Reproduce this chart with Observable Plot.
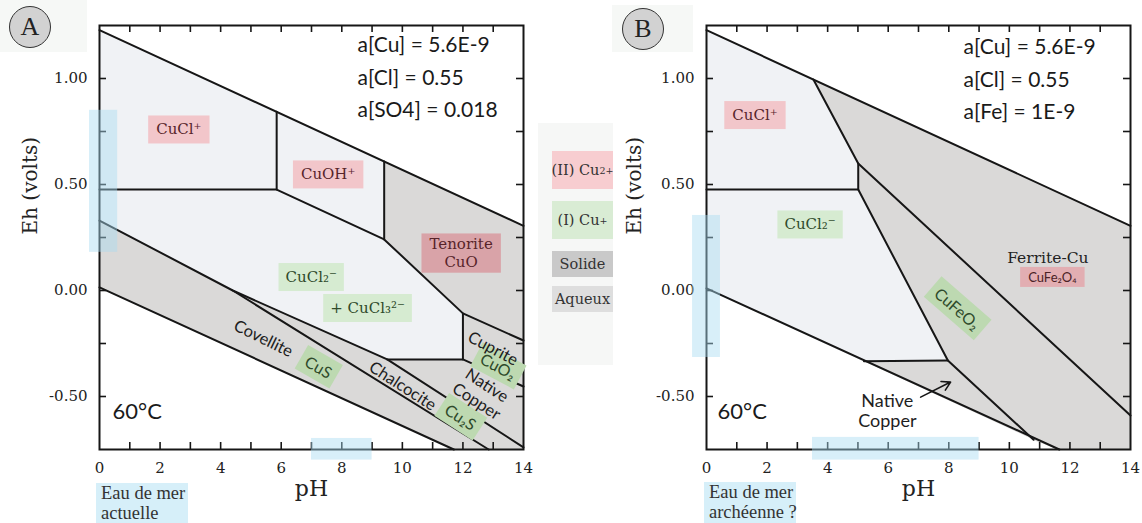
<!DOCTYPE html>
<html lang="fr">
<head>
<meta charset="utf-8">
<script src="https://cdn.jsdelivr.net/npm/d3@7"></script>
<script src="https://cdn.jsdelivr.net/npm/@observablehq/plot@0.6"></script>
<style>
  html, body { margin: 0; padding: 0; background: #fff; }
  #wrap { position: relative; width: 1142px; height: 523px; overflow: hidden; background: #fff; }
  .panel { position: absolute; top: 0; }
  .ghost { position: absolute; background: #f6f8f6; }
  .circ { position: absolute; width: 40px; height: 40px; border-radius: 50%; background: #d2d2d2;
          border: 1.5px solid #333; font: 26px "Liberation Serif", serif; color: #222;
          display: flex; align-items: center; justify-content: center; box-sizing: content-box; }
  .sea { position: absolute; background: #d6eff9; font: 18.5px "Liberation Serif", serif; color: #333;
         line-height: 20px; padding: 0 0 0 5px; box-sizing: border-box; white-space: nowrap; }
  #legend { position: absolute; left: 538px; top: 123px; width: 75px; height: 242px; background: #f6f7f6; }
  .li { position: absolute; left: 14px; width: 61px; display: flex; align-items: center; justify-content: center;
        font: 14.5px "DejaVu Serif", serif; color: #333; white-space: nowrap; }
  .li sup { font-size: 9.5px; vertical-align: 5px; }
</style>
</head>
<body>
<div id="wrap">
  <div class="ghost" style="left:0;top:0;width:87px;height:52px"></div>
  <div class="ghost" style="left:612px;top:5px;width:81px;height:47px"></div>
  <div id="pA" class="panel" style="left:0;width:540px"></div>
  <div id="pB" class="panel" style="left:600px;width:542px"></div>
  <div id="legend"></div>
  <div class="circ" style="left:9px;top:6px">A</div>
  <div class="circ" style="left:622px;top:8px">B</div>
  <div class="sea" style="left:96px;top:483px;width:92px;height:40px">Eau de mer<br>actuelle</div>
  <div class="sea" style="left:704px;top:482px;width:92px;height:41px">Eau de mer<br>archéenne ?</div>
</div>
<script>
// ---------- axis ticks ----------
const xMinor = d3.range(1, 14);
const xLabels = [0, 2, 4, 6, 8, 10, 12, 14];
const yMinor = [-0.5, -0.25, 0, 0.25, 0.5, 0.75, 1];
const yLabels = [-0.5, 0, 0.5, 1];

// ---------- panel A : stability fields (pH, Eh) ----------
const regionsA = [
  {name: "CuCl+",        phase: "aq",    pts: [[0,1.228],[5.85,0.843],[5.85,0.476],[0,0.476]]},
  {name: "CuOH+",        phase: "aq",    pts: [[5.85,0.843],[9.4,0.609],[9.4,0.241],[5.85,0.476]]},
  {name: "CuCl2-",       phase: "aq",    pts: [[0,0.476],[5.85,0.476],[9.4,0.241],[12,-0.108],[12,-0.325],[9.5,-0.325],[4.4,0.0],[0,0.33]]},
  {name: "Tenorite",     phase: "solid", pts: [[9.4,0.609],[14,0.305],[14,-0.236],[12,-0.108],[9.4,0.241]]},
  {name: "Cuprite",      phase: "solid", pts: [[12,-0.108],[14,-0.236],[14,-0.453],[12,-0.325]]},
  {name: "NativeCopper", phase: "solid", pts: [[9.5,-0.325],[12,-0.325],[14,-0.453],[14,-0.74]]},
  {name: "Chalcocite",   phase: "solid", pts: [[4.4,0.0],[9.5,-0.325],[14,-0.74],[14,-0.75],[12.85,-0.75]]},
  {name: "Covellite",    phase: "solid", pts: [[0,0.33],[4.4,0.0],[12.85,-0.75],[11.7,-0.75],[0,0.015]]}
];
const linesA = [
  [[0,1.228],[14,0.305]],
  [[0,0.015],[11.7,-0.75]],
  [[0,0.476],[5.85,0.476]],
  [[5.85,0.843],[5.85,0.476],[9.4,0.241],[12,-0.108],[14,-0.236]],
  [[9.4,0.609],[9.4,0.241]],
  [[12,-0.108],[12,-0.325]],
  [[9.5,-0.325],[12,-0.325],[14,-0.453]],
  [[0,0.33],[4.4,0.0],[9.5,-0.325],[14,-0.74]],
  [[4.4,0.0],[12.85,-0.75]]
];
const labelsA = [
  {text: "CuCl⁺",       x: 2.62,  y: 0.762,  kind: "pinkSerif"},
  {text: "CuOH⁺",       x: 7.55,  y: 0.55,   kind: "pinkSerif"},
  {text: "Tenorite\nCuO", x: 11.94, y: 0.179, kind: "tenorite"},
  {text: "CuCl₂⁻",      x: 6.99,  y: 0.066,  kind: "greenSerif"},
  {text: "+ CuCl₃²⁻",   x: 8.85,  y: -0.08,  kind: "greenSerif"},
  {text: "Covellite",   x: 5.42,  y: -0.224, kind: "mineral",   r: 26},
  {text: "CuS",         x: 7.23,  y: -0.362, kind: "greenSans", r: 30},
  {text: "Chalcocite",  x: 10.02, y: -0.448, kind: "mineral",   r: 33},
  {text: "Cu₂S",        x: 11.92, y: -0.598, kind: "greenSans", r: 33},
  {text: "Native\nCopper", x: 12.63, y: -0.483, kind: "mineral", r: 33},
  {text: "CuO₂",        x: 13.16, y: -0.358, kind: "greenSans", r: 28},
  {text: "Cuprite",     x: 13.0,  y: -0.271, kind: "mineral",   r: 28}
];
const paramsA = ["a[Cu] = 5.6E-9", "a[Cl] = 0.55", "a[SO4] = 0.018"];
const seaA = [
  {x1: -0.33, x2: 0.6, y1: 0.18, y2: 0.85},   // Eh range
  {x1: 7.0, x2: 9.0, y1: -0.80, y2: -0.698}   // pH range
];

// ---------- panel B ----------
const regionsB = [
  {name: "CuCl+",        phase: "aq",    pts: [[0,1.228],[3.53,0.995],[5.01,0.599],[5.01,0.476],[0,0.476]]},
  {name: "CuCl2-",       phase: "aq",    pts: [[0,0.476],[5.01,0.476],[7.97,-0.33],[5.2,-0.334],[0,0.01]]},
  {name: "Ferrite-Cu",   phase: "solid", pts: [[3.53,0.995],[14,0.305],[14,-0.59],[5.01,0.599]]},
  {name: "CuFeO2",       phase: "solid", pts: [[5.01,0.599],[14,-0.59],[14,-0.75],[11.65,-0.75],[10.8,-0.704],[7.97,-0.33],[5.01,0.476]]},
  {name: "NativeCopper", phase: "solid", pts: [[5.2,-0.334],[7.97,-0.33],[10.8,-0.704]]}
];
const linesB = [
  [[0,1.228],[14,0.305]],
  [[0,0.01],[11.65,-0.75]],
  [[0,0.476],[5.01,0.476]],
  [[3.53,0.995],[5.01,0.599],[14,-0.59]],
  [[5.01,0.599],[5.01,0.476],[7.97,-0.33],[10.8,-0.704]],
  [[5.2,-0.334],[7.97,-0.33]]
];
const labelsB = [
  {text: "CuCl⁺",      x: 1.6,   y: 0.83,   kind: "pinkSerif"},
  {text: "CuCl₂⁻",     x: 3.42,  y: 0.314,  kind: "greenSerif"},
  {text: "Ferrite-Cu", x: 11.27, y: 0.157,  kind: "ferrite"},
  {text: "CuFe₂O₄",    x: 11.42, y: 0.063,  kind: "pinkSmall"},
  {text: "CuFeO₂",     x: 8.28,  y: -0.086, kind: "greenSans", r: 41},
  {text: "Native\nCopper", x: 5.97, y: -0.566, kind: "mineralB"}
];
const arrowsB = [{x1: 7.07, y1: -0.503, x2: 8.06, y2: -0.432}];
const paramsB = ["a[Cu] = 5.6E-9", "a[Cl] = 0.55", "a[Fe] = 1E-9"];
const seaB = [
  {x1: -0.46, x2: 0.46, y1: -0.316, y2: 0.354},
  {x1: 3.5, x2: 9.0, y1: -0.80, y2: -0.693}
];
const temperature = "60°C";

// legend
const legendItems = [
  {html: "(II) Cu<sup>2+</sup>", top: 28, h: 38, bg: "#f7cdd0"},
  {html: "(I) Cu<sup>+</sup>",   top: 78, h: 38, bg: "#d9ecd4"},
  {html: "Solide",               top: 128, h: 26, bg: "#c9c9c9"},
  {html: "Aqueux",               top: 163, h: 26, bg: "#dedede"}
];

// ---------- styles ----------
const FILL = {aq: "#f0f2f5", solid: "#dad9d8"};
const INK = "#161616";
const kinds = {
  pinkSerif:  {font: "DejaVu Serif", size: 15,   color: "#57242a", bg: "#f2c6ca", px: 8, py: 5},
  tenorite:   {font: "DejaVu Serif", size: 15,   color: "#57242a", bg: "#d9a3a8", px: 8, py: 2},
  greenSerif: {font: "DejaVu Serif", size: 15,   color: "#2f4a2b", bg: "#d6ebd1", px: 7, py: 5},
  mineral:    {font: "Lato",         size: 16.5, color: "#1e1e1e"},
  mineralB:   {font: "Lato",         size: 18,   color: "#1e1e1e"},
  greenSans:  {font: "Lato",         size: 16,   color: "#2f4a2b", bg: "#bdd9b1", px: 6, py: 4},
  ferrite:    {font: "DejaVu Serif", size: 15.5, color: "#222"},
  pinkSmall:  {font: "Lato",         size: 13,   color: "#4a2226", bg: "#e2aeb2", px: 8, py: 2}
};

function buildPanel(el, cfg) {
  const H = 523, mt = 25, mb = 74;
  const ph = H - mt - mb;
  const pw = cfg.width - cfg.ml - cfg.mr;
  const poly = phase => cfg.regions.filter(r => r.phase === phase)
    .flatMap(r => r.pts.map(([x, y]) => ({x, y, id: r.name})));
  const segs = cfg.lines.flatMap((l, i) => l.map(([x, y]) => ({x, y, id: i})));

  const labelMarks = cfg.labels.map(l => {
    const k = kinds[l.kind];
    return Plot.text([l], {x: "x", y: "y", text: "text", rotate: l.r || 0,
      fontFamily: k.font, fontSize: k.size, fill: k.color, lineHeight: 1.15});
  });

  const svg = Plot.plot({
    width: cfg.width, height: H,
    marginLeft: cfg.ml, marginRight: cfg.mr, marginTop: mt, marginBottom: mb,
    x: {domain: [0, 14]},
    y: {domain: [-0.75, 1.25]},
    style: {fontFamily: "DejaVu Serif", color: "#222", background: "transparent", overflow: "visible"},
    marks: [
      Plot.line(poly("aq"),    {x: "x", y: "y", z: "id", fill: FILL.aq,    stroke: FILL.aq,    strokeWidth: 0.8}),
      Plot.line(poly("solid"), {x: "x", y: "y", z: "id", fill: FILL.solid, stroke: FILL.solid, strokeWidth: 0.8}),
      Plot.line(segs, {x: "x", y: "y", z: "id", stroke: INK, strokeWidth: 2}),
      Plot.frame({stroke: INK, strokeWidth: 2}),
      Plot.tickX(xMinor, {x: d => d, insetTop: ph - 7, stroke: INK, strokeWidth: 1.6}),
      Plot.tickX(xMinor, {x: d => d, insetBottom: ph - 7, stroke: INK, strokeWidth: 1.6}),
      Plot.tickY(yMinor, {y: d => d, insetRight: pw - 7, stroke: INK, strokeWidth: 1.6}),
      Plot.tickY(yMinor, {y: d => d, insetLeft: pw - 7, stroke: INK, strokeWidth: 1.6}),
      Plot.axisX(xLabels, {tickSize: 0, tickPadding: 13, fontSize: 15, label: null}),
      Plot.axisY(yLabels, {tickSize: 0, tickPadding: 12, fontSize: 15, label: null, tickFormat: d => d.toFixed(2)}),
      Plot.text(["Eh (volts)"], {frameAnchor: "left", dx: cfg.ehDx, dy: -3, rotate: -90, fontSize: 20}),
      Plot.text(["pH"], {frameAnchor: "bottom", dy: 46, fontSize: 22}),
      Plot.rect(cfg.sea, {x1: "x1", x2: "x2", y1: "y1", y2: "y2", fill: "#a9dcf2", fillOpacity: 0.45}),
      ...labelMarks,
      ...(cfg.arrows ? [Plot.arrow(cfg.arrows, {x1: "x1", y1: "y1", x2: "x2", y2: "y2", stroke: INK, strokeWidth: 1.6, headLength: 9})] : []),
      ...cfg.params.map((s, i) => Plot.text([s], {frameAnchor: "top-left", dx: cfg.paramDx, dy: cfg.paramDy + i * 32.5,
        textAnchor: "start", lineAnchor: "middle", fontFamily: "Lato", fontSize: 21, fill: "#1a1a1a"})),
      Plot.text([temperature], {frameAnchor: "top-left", dx: cfg.tDx, dy: 386, textAnchor: "start", lineAnchor: "middle",
        fontFamily: "Lato", fontSize: 22, fill: "#1a1a1a"})
    ]
  });
  el.append(svg);

  // label background boxes, drawn under each label
  const bgs = new Map(cfg.labels.filter(l => kinds[l.kind].bg)
    .map(l => [l.text.replace(/\n/g, ""), kinds[l.kind]]));
  svg.querySelectorAll("text").forEach(t => {
    const k = bgs.get(t.textContent);
    if (!k) return;
    const b = t.getBBox();
    const r = document.createElementNS("http://www.w3.org/2000/svg", "rect");
    r.setAttribute("x", b.x - k.px);
    r.setAttribute("y", b.y - k.py);
    r.setAttribute("width", b.width + 2 * k.px);
    r.setAttribute("height", b.height + 2 * k.py);
    r.setAttribute("fill", k.bg);
    r.setAttribute("stroke", "none");
    const tr = t.getAttribute("transform");
    if (tr) r.setAttribute("transform", tr);
    t.parentNode.insertBefore(r, t);
  });
}

buildPanel(document.getElementById("pA"), {
  width: 540, ml: 99, mr: 17, regions: regionsA, lines: linesA, labels: labelsA,
  params: paramsA, paramDx: 258, paramDy: 20, tDx: 13, ehDx: -69, sea: seaA
});
buildPanel(document.getElementById("pB"), {
  width: 542, ml: 106, mr: 12, regions: regionsB, lines: linesB, labels: labelsB,
  params: paramsB, paramDx: 257, paramDy: 22, tDx: 11, ehDx: -72, sea: seaB, arrows: arrowsB
});

const legend = document.getElementById("legend");
legendItems.forEach(it => {
  const d = document.createElement("div");
  d.className = "li";
  d.style.top = it.top + "px";
  d.style.height = it.h + "px";
  d.style.background = it.bg;
  d.innerHTML = it.html;
  legend.append(d);
});
</script>
</body>
</html>
